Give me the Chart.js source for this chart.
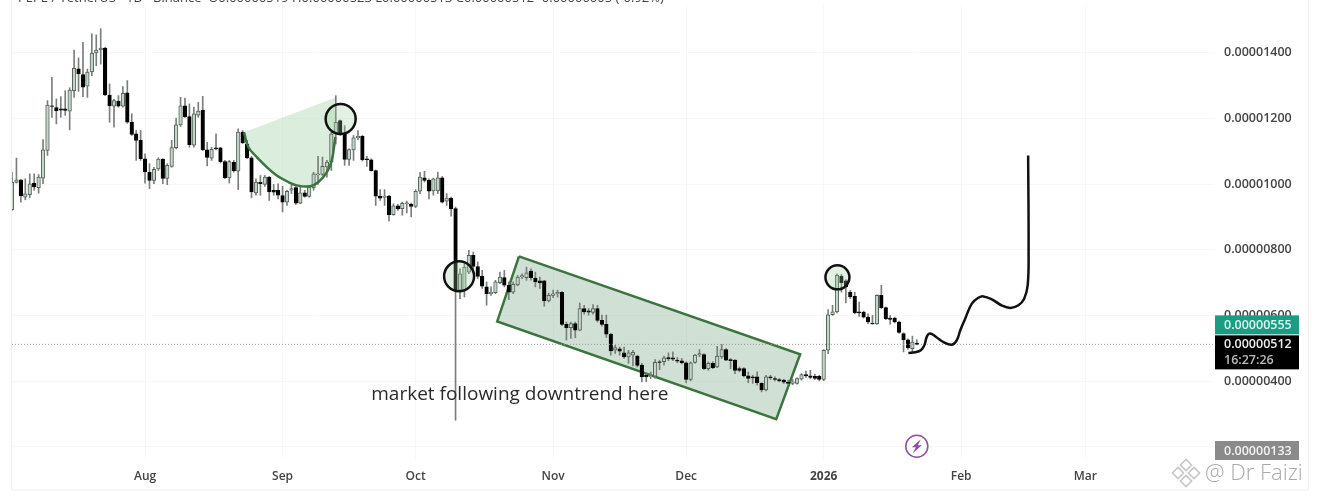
<!DOCTYPE html>
<html>
<head>
<meta charset="utf-8">
<title>PEPE / TetherUS</title>
<script src="https://cdn.jsdelivr.net/npm/chart.js@4"></script>
<style>
  html, body { margin: 0; padding: 0; background: #fff; }
  canvas { display: block; }
</style>
</head>
<body>
<canvas id="priceChart" width="1320" height="499"></canvas>
<script>
// prices are in units of 0.00000001, x is days from 1 Aug
const titleText = 'PEPE / TetherUS · 1D · Binance  O0.00000519 H0.00000523 L0.00000513 C0.00000512 -0.00000005 (-0.92%)';
const firstDay = -30;

const opens = [
  922,1005,1013,960,968,1003,989,1018,1102,1238,1233,1229,1229,1222,1284,1351,1333,1298,1341,1399,
  1408,1414,1271,1237,1252,1237,1278,1188,1153,1133,1077,1036,1011,1046,1076,1017,1054,1111,1180,1238,
  1205,1118,1210,1224,1104,1079,1110,1110,1068,1019,1066,1039,1158,1122,1080,973,1006,999,1021,981,
  981,965,945,981,989,942,973,962,989,1028,1029,1052,1067,1153,1193,1155,1075,1104,1141,1145,
  1077,1074,1041,963,959,963,907,934,925,940,938,932,978,1019,1011,979,979,1019,948,957,
  925,677,677,732,783,749,719,687,666,669,700,715,692,671,693,717,715,735,714,705,
  705,644,661,666,670,573,563,575,555,621,614,609,621,585,573,543,494,498,486,474,
  479,476,449,418,413,415,459,459,472,471,464,462,456,405,457,480,481,438,454,443,
  474,496,466,464,438,438,416,413,413,393,373,413,408,405,403,397,393,393,406,420,
  416,415,415,405,494,602,611,719,705,671,658,611,610,595,577,574,661,624,592,592,
  580,545,526,499,516
];
const highs = [
  1036,1079,1013,1016,1031,1031,1029,1135,1254,1325,1259,1266,1284,1293,1408,1384,1431,1350,1457,1454,
  1473,1416,1305,1258,1269,1297,1315,1214,1163,1163,1092,1062,1051,1080,1077,1062,1133,1201,1264,1262,
  1244,1234,1249,1267,1127,1112,1153,1112,1072,1072,1072,1168,1163,1133,1084,1016,1026,1026,1023,999,
  1001,993,981,996,993,991,981,996,1036,1084,1082,1072,1158,1269,1195,1178,1107,1148,1163,1148,
  1084,1077,1043,983,983,966,940,938,945,948,942,983,1036,1039,1016,1018,1036,1023,971,960,
  930,742,758,798,793,763,737,702,687,707,732,737,702,702,722,727,747,742,732,717,
  707,668,677,677,673,580,580,580,638,631,621,633,631,601,601,545,509,504,504,494,
  494,479,454,423,428,466,464,476,486,489,472,469,459,459,482,496,484,459,459,506,
  512,499,469,466,443,441,428,418,428,395,418,418,413,408,406,403,405,410,423,431,
  433,421,418,496,618,631,727,725,709,676,671,641,613,605,600,663,692,626,600,595,
  583,547,529,537,526
];
const lows = [
  920,1003,945,952,958,981,972,1001,1087,1203,1183,1203,1209,1165,1264,1282,1266,1264,1330,1360,
  1365,1269,1188,1173,1234,1234,1185,1148,1072,1072,1003,986,1001,1041,1001,998,1051,1107,1175,1203,
  1112,1112,1203,1102,1055,1072,1104,1064,1016,1003,1036,983,1123,1077,958,966,966,993,950,966,
  955,915,935,971,938,940,960,960,981,999,1026,1021,1041,1122,1148,1057,1057,1072,1135,1070,
  1054,1039,935,950,935,888,905,920,905,912,900,928,971,1006,955,966,971,942,935,902,
  281,651,656,727,742,712,682,631,661,666,697,687,648,666,690,712,707,707,687,682,
  628,641,654,656,569,525,530,532,553,604,601,604,580,567,533,479,484,479,469,454,
  446,443,398,398,408,408,435,449,462,462,456,452,395,401,454,474,435,433,438,441,
  469,462,438,423,428,413,395,393,388,367,370,405,401,398,393,389,389,391,403,411,
  407,405,401,401,484,600,608,671,638,651,605,597,592,575,573,573,621,587,573,577,
  545,489,497,489,512
];
const closes = [
  1006,1013,964,970,1001,991,1021,1104,1240,1236,1223,1225,1224,1286,1352,1335,1295,1341,1399,1408,
  1414,1271,1238,1254,1237,1276,1188,1151,1133,1077,1038,1011,1045,1076,1017,1057,1111,1180,1238,1205,
  1120,1214,1222,1104,1081,1106,1107,1068,1019,1068,1041,1158,1125,1080,976,1006,1001,1021,976,975,
  966,945,978,986,942,973,962,991,1031,1031,1054,1067,1153,1188,1155,1075,1105,1141,1145,1074,
  1074,1041,963,957,963,907,934,924,941,943,932,978,1021,1011,978,1016,1019,945,957,925,
  677,727,747,783,749,719,689,666,671,702,717,692,671,695,717,721,730,715,702,699,
  644,661,666,670,573,563,575,555,621,611,610,621,585,573,543,492,502,491,474,486,
  488,448,413,413,418,457,457,471,468,467,461,456,405,456,479,484,438,454,441,476,
  496,464,462,433,433,416,408,410,395,373,413,410,405,401,397,393,398,408,420,416,
  411,408,405,494,602,611,722,700,687,656,608,608,595,580,574,661,624,590,588,580,
  548,526,501,519,512
];

const tickDays = [0, 31, 61, 92, 122, 153, 184, 212];
const tickMonths = ['Aug', 'Sep', 'Oct', 'Nov', 'Dec', '2026', 'Feb', 'Mar'];
const tickPrices = [200, 400, 600, 800, 1000, 1200, 1400];

const lastPrice = 512;
const lastPriceLabel = '0.00000512';
const countdownLabel = '16:27:26';
const prevCloseLabel = '0.00000555';
const lowLabel = '0.00000133';

const channelDays = [84.3, 147.7, 142.3, 79.4, 84.3];
const channelPrices = [780, 482, 284, 582, 780];

const cupDays = [22.3, 23.3, 25.2, 27.4, 29.7, 32, 34.2, 37.2, 39.1, 41, 42.1, 42.9, 43.1];
const cupPrices = [1158, 1112, 1082, 1052, 1026, 1008, 996, 993, 1006, 1036, 1072, 1143, 1264];

const forecastDays = [172.1, 173.6, 174.9, 175.7, 176.3, 177, 178.5, 180, 181.9, 183, 183.8, 184.9, 186.4, 187.9, 189, 190.9, 193.2, 195.1, 196.9, 198.2, 199, 199.2, 199.1];
const forecastPrices = [486, 488, 494, 509, 537, 545, 533, 519, 511, 524, 555, 590, 636, 654, 658, 649, 630, 623, 631, 651, 692, 798, 1087];

const circleDays = [44.1, 70.8, 156.1];
const circlePrices = [1198, 719, 716];
const circleSizes = [15, 15, 12];

const noteText = 'market following downtrend here';
const noteDay = 51;
const notePrice = 358;
const boltDay = 174;
const boltPrice = 202;

const fontFamily = '"Open Sans", sans-serif';
const upFill = '#c3d6c7';
const upLine = '#56615a';
const wickColor = '#7a7f7b';
const trendGreen = '#3c7440';
const gridColor = '#f7f7f7';

function toPoints(days, prices) {
    return days.map((d, i) => ({ x: d, y: prices[i] }));
}

// tick labels must not push the plot area in
function dropAxisPadding(axis) {
    axis.paddingTop = 0;
    axis.paddingBottom = 0;
    axis.paddingLeft = 0;
    axis.paddingRight = 0;
}

const isUp = opens.map((o, i) => closes[i] >= o);

const overlayPlugin = {
    id: 'overlay',
    afterDraw(chart) {
        const ctx = chart.ctx;
        const x = chart.scales.x;
        const y = chart.scales.y;
        ctx.save();

        // frame
        ctx.strokeStyle = '#f0f0f0';
        ctx.lineWidth = 1;
        ctx.strokeRect(11.5, -2, 1297, 492);

        // legend line cut by the top of the picture
        ctx.font = '13px ' + fontFamily;
        ctx.fillStyle = '#444';
        ctx.textBaseline = 'middle';
        ctx.textAlign = 'left';
        ctx.fillText(titleText, 18, -2);

        // note
        ctx.font = '19px ' + fontFamily;
        ctx.fillStyle = '#2b2b2b';
        ctx.fillText(noteText, x.getPixelForValue(noteDay), y.getPixelForValue(notePrice));

        // lightning
        const bx = x.getPixelForValue(boltDay);
        const by = y.getPixelForValue(boltPrice);
        ctx.fillStyle = '#8e4fa0';
        ctx.beginPath();
        ctx.moveTo(bx + 4, by - 7);
        ctx.lineTo(bx - 5, by + 1);
        ctx.lineTo(bx - 1, by + 1);
        ctx.lineTo(bx - 4, by + 7);
        ctx.lineTo(bx + 5, by - 1);
        ctx.lineTo(bx + 1, by - 1);
        ctx.closePath();
        ctx.fill();

        // price labels
        const ly = y.getPixelForValue(lastPrice);
        ctx.textAlign = 'left';
        ctx.font = '600 12.5px ' + fontFamily;
        ctx.fillStyle = '#1a9c85';
        ctx.fillRect(1215, ly - 29, 84, 19);
        ctx.fillStyle = '#dff5ef';
        ctx.fillText(prevCloseLabel, 1224, ly - 19);
        ctx.fillStyle = '#000';
        ctx.fillRect(1215, ly - 9, 84, 34);
        ctx.fillStyle = '#eee';
        ctx.fillText(lastPriceLabel, 1224, ly);
        ctx.fillStyle = '#bbb';
        ctx.fillText(countdownLabel, 1224, ly + 16);
        ctx.fillStyle = '#8a8a8a';
        ctx.fillRect(1215, 441, 84, 19);
        ctx.fillStyle = '#f2f2f2';
        ctx.fillText(lowLabel, 1224, 451);

        // watermark
        ctx.strokeStyle = 'rgba(150,150,150,0.55)';
        ctx.lineWidth = 1.5;
        [[0, -8], [-8, 0], [8, 0], [0, 8]].forEach(p => {
            ctx.save();
            ctx.translate(1186 + p[0], 473 + p[1]);
            ctx.rotate(Math.PI / 4);
            ctx.strokeRect(-4, -4, 8, 8);
            ctx.restore();
        });
        ctx.font = '300 22px ' + fontFamily;
        ctx.fillStyle = 'rgba(140,140,140,0.75)';
        ctx.fillText('@ Dr Faizi', 1205, 474);

        ctx.restore();
    }
};

new Chart(document.getElementById('priceChart').getContext('2d'), {
    type: 'bar',
    data: {
        datasets: [
            {
                // channel box
                type: 'line',
                data: toPoints(channelDays, channelPrices),
                borderColor: trendGreen,
                borderWidth: 2.5,
                backgroundColor: 'rgba(120,165,130,0.34)',
                fill: 'shape',
                pointRadius: 0,
                tension: 0,
                order: 10
            },
            {
                // cup fill, top edge closes itself
                type: 'line',
                data: toPoints(cupDays, cupPrices),
                borderWidth: 0,
                borderColor: 'transparent',
                backgroundColor: 'rgba(170,215,175,0.42)',
                fill: 'shape',
                pointRadius: 0,
                tension: 0,
                order: 9
            },
            {
                data: opens.map((o, i) => ({ x: firstDay + i, y: [lows[i], highs[i]] })),
                backgroundColor: wickColor,
                barThickness: 1,
                grouped: false,
                order: 6
            },
            {
                data: opens.map((o, i) => ({ x: firstDay + i, y: [o, closes[i]] })),
                backgroundColor: isUp.map(u => u ? upFill : '#000'),
                borderColor: isUp.map(u => u ? upLine : '#000'),
                borderWidth: 1,
                borderSkipped: false,
                barThickness: 3.6,
                grouped: false,
                order: 5
            },
            {
                // last price
                type: 'line',
                data: toPoints([firstDay, 241], [lastPrice, lastPrice]),
                borderColor: '#9a9a9a',
                borderWidth: 1,
                borderDash: [1, 2],
                pointRadius: 0,
                order: 4
            },
            {
                // cup curve
                type: 'line',
                data: toPoints(cupDays.slice(0, 12), cupPrices.slice(0, 12)),
                borderColor: trendGreen,
                borderWidth: 2.5,
                pointRadius: 0,
                tension: 0.4,
                order: 3
            },
            {
                // forecast path
                type: 'line',
                data: toPoints(forecastDays, forecastPrices),
                borderColor: '#111',
                borderWidth: 2.5,
                pointRadius: 0,
                tension: 0.4,
                order: 2
            },
            {
                // circles
                type: 'line',
                data: toPoints(circleDays, circlePrices),
                showLine: false,
                pointStyle: 'circle',
                pointRadius: circleSizes,
                pointBorderColor: '#111',
                pointBorderWidth: 2.5,
                pointBackgroundColor: 'rgba(150,205,155,0.28)',
                order: 1
            },
            {
                // lightning ring
                type: 'line',
                data: [{ x: boltDay, y: boltPrice }],
                showLine: false,
                pointRadius: 11,
                pointBorderColor: '#8e4fa0',
                pointBorderWidth: 1.5,
                pointBackgroundColor: '#fff',
                order: 0
            }
        ]
    },
    options: {
        responsive: false,
        animation: false,
        layout: { autoPadding: false, padding: { left: 12, top: 5, right: 0, bottom: 0 } },
        scales: {
            x: {
                type: 'linear',
                offset: false,
                min: firstDay,
                max: 241,
                afterBuildTicks(axis) {
                    axis.ticks = tickDays.map(v => ({ value: v }));
                },
                afterFit(axis) {
                    axis.height = 40;
                    dropAxisPadding(axis);
                },
                grid: { color: gridColor, drawTicks: false, offset: false },
                border: { display: false },
                ticks: {
                    autoSkip: false,
                    maxRotation: 0,
                    padding: 10,
                    color: '#444',
                    font: ctx => ({
                        family: fontFamily,
                        size: 12,
                        weight: ctx.tick && ctx.tick.value === 153 ? 'bold' : '600'
                    }),
                    callback: v => tickMonths[tickDays.indexOf(v)]
                }
            },
            y: {
                position: 'right',
                min: 163,
                max: 1545,
                afterBuildTicks(axis) {
                    axis.ticks = tickPrices.map(v => ({ value: v }));
                },
                afterFit(axis) {
                    axis.width = 106;
                    dropAxisPadding(axis);
                },
                grid: { color: gridColor, drawTicks: false },
                border: { display: false },
                ticks: {
                    padding: 10,
                    color: '#444',
                    font: { family: fontFamily, size: 12.5, weight: '600' },
                    callback: v => v === 200 ? '' : (v / 1e8).toFixed(8)
                }
            }
        },
        plugins: {
            legend: { display: false },
            tooltip: { enabled: false }
        }
    },
    plugins: [overlayPlugin]
});
</script>
</body>
</html>
